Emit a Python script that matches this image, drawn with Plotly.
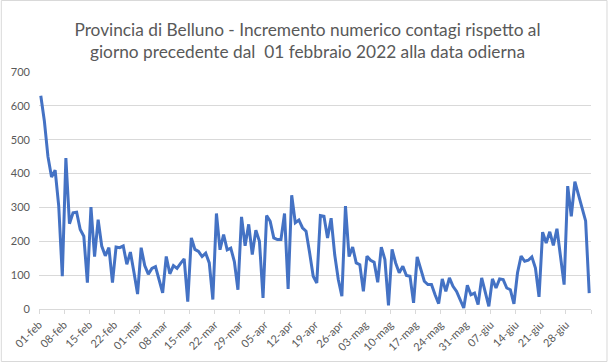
import pandas as pd
import plotly.graph_objects as go

# Daily dates (01 feb 2022 -> 04 lug 2022)
dates = pd.date_range("2022-02-01", periods=154, freq="D")

values = [
    630, 555, 450, 390, 410, 305, 97, 446, 252, 284,
    286, 235, 215, 78, 301, 155, 264, 186, 157, 181,
    78, 183, 181, 186, 132, 168, 108, 44, 181, 128,
    103, 120, 125, 88, 48, 155, 104, 128, 120, 135,
    148, 22, 210, 176, 170, 155, 165, 136, 28, 282,
    175, 220, 175, 180, 140, 57, 272, 187, 250, 161,
    233, 200, 33, 276, 259, 210, 205, 205, 282, 59,
    336, 255, 263, 240, 230, 166, 97, 77, 276, 274,
    210, 268, 160, 87, 38, 304, 155, 183, 136, 131,
    52, 156, 144, 138, 79, 183, 146, 11, 176, 136,
    107, 126, 99, 97, 18, 154, 116, 82, 72, 72,
    42, 16, 89, 52, 92, 67, 52, 30, 3, 70,
    42, 47, 13, 92, 52, 8, 89, 62, 89, 87,
    62, 57, 15, 107, 156, 141, 144, 154, 121, 36,
    227, 195, 228, 188, 237, 156, 72, 363, 274, 376,
    339, 304, 260, 47,
]

tick_dates = pd.date_range("2022-02-01", "2022-07-05", freq="7D")
tick_labels = ["01-feb", "08-feb", "15-feb", "22-feb", "01-mar", "08-mar",
               "15-mar", "22-mar", "29-mar", "05-apr", "12-apr", "19-apr",
               "26-apr", "03-mag", "10-mag", "17-mag", "24-mag", "31-mag",
               "07-giu", "14-giu", "21-giu", "28-giu", ""]

title_text = ("Provincia di Belluno - Incremento numerico contagi rispetto al<br>"
              "giorno precedente dal  01 febbraio 2022 alla data odierna")

# points sit in the middle of each day (Excel "between tick marks")
x_mid = dates + pd.Timedelta(hours=12)

fig = go.Figure()
fig.add_trace(go.Scatter(
    x=x_mid, y=values, mode="lines",
    line=dict(color="#4472C4", width=3),
    hoverinfo="x+y",
))

grey = "#595959"
fig.update_layout(
    width=615, height=363,
    margin=dict(l=39, r=24, t=72, b=54, autoexpand=False),
    paper_bgcolor="white", plot_bgcolor="white",
    showlegend=False,
    font=dict(family="Lato, Carlito, Calibri, sans-serif", color=grey),
    title=dict(text=title_text, x=0.5, xanchor="center", xref="container",
               y=1 - 36 / 363, yanchor="top", yref="container",
               font=dict(size=17.3, color=grey)),
)
fig.update_xaxes(
    range=[dates[0], tick_dates[-1]],
    tickmode="array", tickvals=tick_dates, ticktext=tick_labels,
    tickangle=-45, tickfont=dict(size=11, color=grey),
    showgrid=False, showline=True, linecolor="#d9d9d9", linewidth=1,
    ticks="outside", ticklen=4, tickcolor="#d9d9d9",
    zeroline=False, automargin=False,
)
fig.update_yaxes(
    range=[0, 700], dtick=100, tick0=0,
    tickfont=dict(size=11, color=grey), ticklabelstandoff=8,
    showgrid=True, gridcolor="#d9d9d9", gridwidth=1,
    showline=False, zeroline=False, ticks="", automargin=False,
)
# light chart border like Excel
fig.add_shape(type="rect", xref="paper", yref="paper",
              x0=(1 - 38.7) / 552.3, x1=(607 - 38.7) / 552.3,
              y0=(309 - 361.5) / 237, y1=(309 - 0.5) / 237,
              line=dict(color="#d9d9d9", width=1), layer="below")

fig.write_html("out.html", config={"displayModeBar": False},
               post_script="document.body.style.margin='0';")
